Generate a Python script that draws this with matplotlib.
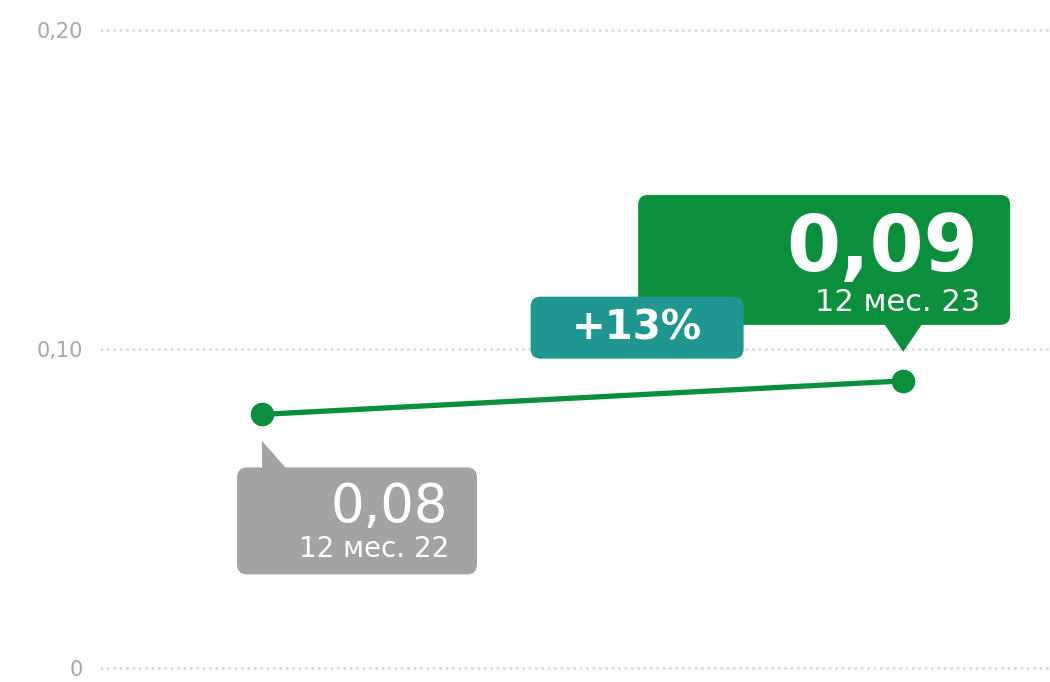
import numpy as np
import matplotlib
matplotlib.use('Agg')
import matplotlib.pyplot as plt
from matplotlib.patches import FancyBboxPatch, Polygon
from matplotlib.transforms import IdentityTransform

# data
periods = ['12 мес. 22', '12 мес. 23']
values = [0.0795, 0.09]
value_labels = ['0,08', '0,09']
change_label = '+13%'
yticks = [0, 0.10, 0.20]
ytick_labels = ['0', '0,10', '0,20']

green = '#0b8f3c'
teal = '#1f9690'
grey = '#a3a3a3'

W, H = 1050, 682
fig = plt.figure(figsize=(W / 100, H / 100), dpi=100)
ax = fig.add_axes([100 / W, 14 / H, 1 - 100 / W, 638 / H])

x = np.arange(len(values))
ax.set_xlim(-0.2527, 1.229)
ax.set_ylim(0, 0.20)

for t in yticks:
    ax.axhline(t, color='#dcdcdc', lw=2, ls=(0, (1, 1.3)), zorder=0, clip_on=False)
ax.set_yticks(yticks)
ax.set_yticklabels(ytick_labels, color='#a8a8a8', fontsize=15)
ax.tick_params(axis='y', length=0, pad=12)
ax.set_xticks([])
for s in ax.spines.values():
    s.set_visible(False)

ax.plot(x, values, color=green, lw=3.8, marker='o', ms=16, zorder=3, solid_capstyle='round')

ident = IdentityTransform()


def to_px(xv, yv):
    # display coords (origin bottom-left)
    return ax.transData.transform((xv, yv))


def box(cx, cy, x0, x1, y0, y1, color):
    # offsets given top-down in pixels relative to (cx, cy)
    p = FancyBboxPatch((cx + x0, cy - y1), (x1 - x0), (y1 - y0),
                       boxstyle='round,pad=0,rounding_size=10',
                       fc=color, ec='none', transform=ident, zorder=4)
    fig.patches.append(p)


def tri(cx, cy, pts, color):
    verts = [(cx + dx, cy - dy) for dx, dy in pts]
    fig.patches.append(Polygon(verts, closed=True, fc=color, ec='none',
                               transform=ident, zorder=4))


def label(cx, cy, dx, dy, s, size, bold=False, ha='right'):
    fig.text(cx + dx, cy - dy, s, transform=ident, color='white', fontsize=size,
             fontweight='bold' if bold else 'normal', ha=ha, va='baseline', zorder=5)


# last point box (green)
px1, py1 = to_px(x[1], values[1])
box(px1, py1, -265, 107, -186, -56, green)
tri(px1, py1, [(-19, -57), (19, -57), (0, -29)], green)
label(px1, py1, 75, -110, value_labels[1], 56, bold=True)
label(px1, py1, 77, -70, periods[1], 22)

# first point box (grey)
px0, py0 = to_px(x[0], values[0])
box(px0, py0, -25, 215, 53, 160, grey)
tri(px0, py0, [(0, 27), (0, 54), (24, 54)], grey)
label(px0, py0, 186, 108, value_labels[0], 38)
label(px0, py0, 187, 143, periods[0], 20)

# change box (teal)
mx, my = to_px(x.mean(), np.mean(values))
box(mx, my, -52, 161, -101, -39, teal)
label(mx, my, 54, -58, change_label, 29, bold=True, ha='center')

fig.savefig('out.png', dpi=100, facecolor='white')
